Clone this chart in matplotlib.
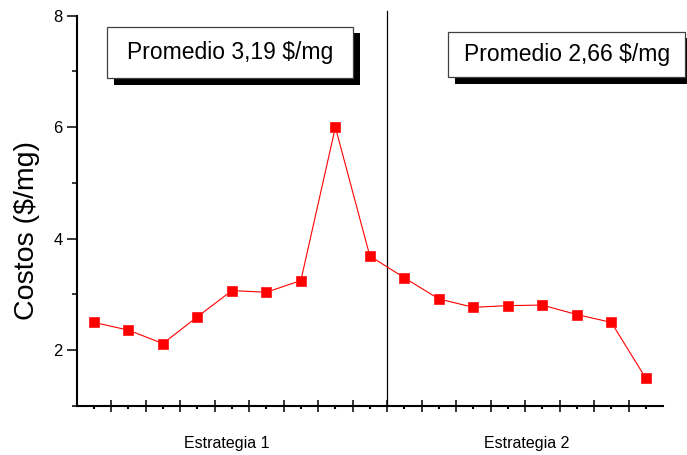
import matplotlib
matplotlib.use("Agg")
import matplotlib.pyplot as plt
from matplotlib.patches import Rectangle
from matplotlib.ticker import FixedLocator

plt.rcParams['font.family'] = ['Liberation Sans', 'DejaVu Sans']

# Costs per sample, two strategies
costos_e1 = [2.50, 2.36, 2.12, 2.60, 3.07, 3.04, 3.25, 6.00, 3.69]
costos_e2 = [3.30, 2.92, 2.77, 2.80, 2.81, 2.64, 2.50, 1.50]
estrategias = ["Estrategia 1", "Estrategia 2"]
promedios = ["Promedio 3,19 $/mg", "Promedio 2,66 $/mg"]
y_ticks = [2, 4, 6, 8]
y_label = "Costos ($/mg)"

costos = costos_e1 + costos_e2
xs = [i + 0.5 for i in range(len(costos))]
split = len(costos_e1)

W, H = 687, 455
fig = plt.figure(figsize=(W / 100, H / 100), dpi=100)
ax = fig.add_axes([76.7 / W, 1 - 406 / H, (663 - 76.7) / W, (406 - 15.7) / H])

ax.plot(xs, costos, color='#ff0000', lw=0.8, marker='s', ms=7.2,
        mfc='#ff0000', mec='#ff2020', mew=0.6, zorder=3)

ax.set_xlim(0, len(costos))
ax.set_ylim(1, 8)

for s in ('top', 'right'):
    ax.spines[s].set_visible(False)
for s in ('left', 'bottom'):
    ax.spines[s].set_linewidth(1.5)

ax.yaxis.set_major_locator(FixedLocator(y_ticks))
ax.yaxis.set_minor_locator(FixedLocator([1, 3, 5, 7]))
ax.xaxis.set_major_locator(FixedLocator(range(1, len(costos))))
ax.xaxis.set_minor_locator(FixedLocator(xs))
ax.set_xticklabels([])
ax.tick_params(axis='y', which='major', direction='out', length=7.2, width=1.1,
               labelsize=12, pad=3)
ax.tick_params(axis='y', which='minor', direction='out', length=3.6, width=1.1)
ax.tick_params(axis='x', which='major', direction='inout', length=8, width=1.1)
ax.tick_params(axis='x', which='minor', direction='out', length=2.5, width=1.5)

# Separator between the two strategies
ax.axvline(split, ymin=0, ymax=1.012, color='black', lw=0.9, clip_on=False, zorder=2)

# Strategy labels under the axis
ax.text(split / 2 - 0.15, -0.095, estrategias[0], transform=ax.get_xaxis_transform(),
        ha='center', va='center', fontsize=11.5)
ax.text(split + (len(costos) - split) / 2 + 0.05, -0.095, estrategias[1],
        transform=ax.get_xaxis_transform(), ha='center', va='center', fontsize=11.5)

fig.text(27 / W, 1 - 231 / H, y_label, rotation=90, ha='center', va='center', fontsize=20.5)

# Boxes with drop shadow for the averages (pixel extents)
boxes = [(107.3, 26.7, 353.3, 78.3), (448.3, 31.7, 685.0, 77.3)]
off = 6.5
for (x0, y0, x1, y1), txt in zip(boxes, promedios):
    fx0, fx1 = x0 / W, x1 / W
    fy0, fy1 = 1 - y1 / H, 1 - y0 / H
    shadow = Rectangle((fx0 + off / W, fy0 - off / H), fx1 - fx0, fy1 - fy0,
                       transform=fig.transFigure, facecolor='black', edgecolor='none',
                       zorder=5)
    box = Rectangle((fx0, fy0), fx1 - fx0, fy1 - fy0, transform=fig.transFigure,
                    facecolor='white', edgecolor='#404040', lw=0.9, zorder=6)
    fig.add_artist(shadow)
    fig.add_artist(box)
    fig.text((fx0 + fx1) / 2, (fy0 + fy1) / 2, txt, ha='center', va='center',
             fontsize=16.5, zorder=7)

fig.savefig("out.png", dpi=100)
